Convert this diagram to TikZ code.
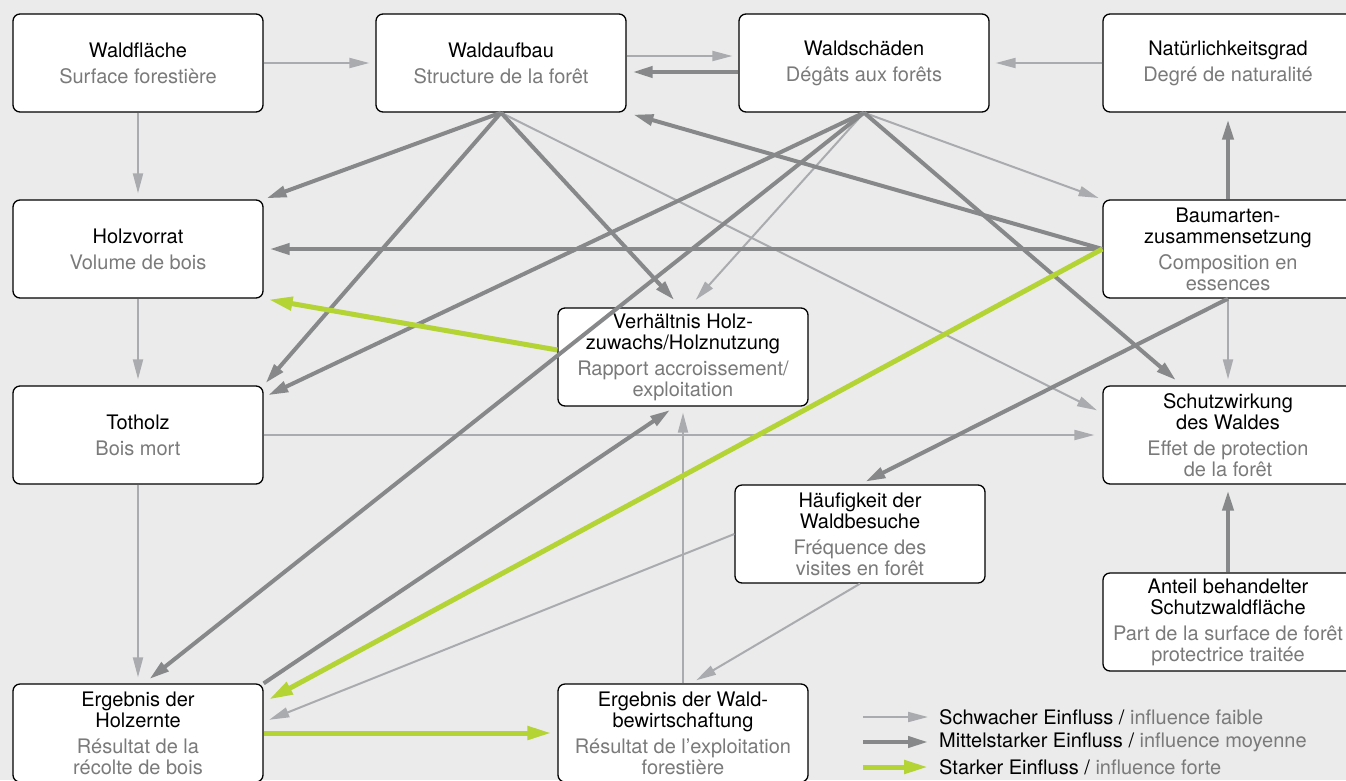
\documentclass[tikz,border=0pt]{standalone}
\usepackage{fontspec}
\setmainfont{TeX Gyre Heros}
\usepackage{tikz}
\usetikzlibrary{arrows.meta,calc}
\usepackage{xcolor}

\definecolor{bggray}{HTML}{EBEBEB}
\definecolor{weakgray}{HTML}{AAABAE}
\definecolor{midgray}{HTML}{87888A}
\definecolor{lime}{HTML}{B4D334}
\definecolor{frgray}{HTML}{7A7A7A}
\newcommand{\fr}[1]{\textcolor{frgray}{#1}}

\begin{document}
\begin{tikzpicture}[
    x=1pt, y=-1pt,
    box/.style={
        draw=black,
        line width=1.3pt,
        rounded corners=7pt,
        fill=white,
        minimum width=250pt,
        minimum height=98pt,
        inner sep=2pt,
        align=center,
        font=\fontsize{20}{21}\selectfont
    },
    legtxt/.style={inner sep=0pt, anchor=west, font=\fontsize{20}{21}\selectfont},
    weakarr/.style={draw=weakgray, line width=2pt,
        -{Triangle[length=20pt,width=10pt]}, shorten >=6pt},
    medarr/.style={draw=midgray, line width=4pt,
        -{Triangle[length=20pt,width=11pt]}, shorten >=6pt},
    strongarr/.style={draw=lime, line width=5pt,
        -{Triangle[length=24pt,width=13pt]}, shorten >=6pt}
]

\path[use as bounding box, fill=bggray] (0,0) rectangle (1346,780);

% Indikatoren
\node[box] (flaeche)  at (138,63)  {Waldfläche\\[5pt]\fr{Surface forestière}};
\node[box] (aufbau)   at (501,63)  {Waldaufbau\\[5pt]\fr{Structure de la forêt}};
\node[box] (schaeden) at (864,63)  {Waldschäden\\[5pt]\fr{Dégâts aux forêts}};
\node[box] (natur)    at (1228,63) {Natürlichkeitsgrad\\[5pt]\fr{Degré de naturalité}};
\node[box] (vorrat)   at (138,249) {Holzvorrat\\[5pt]\fr{Volume de bois}};
\node[box] (baumart)  at (1228,249) {Baumarten-\\zusammensetzung\\[5pt]\fr{Composition en}\\\fr{essences}};
\node[box] (verh)     at (683,357) {Verhältnis Holz-\\zuwachs/Holznutzung\\[5pt]\fr{Rapport accroissement/}\\\fr{exploitation}};
\node[box] (totholz)  at (138,435) {Totholz\\[5pt]\fr{Bois mort}};
\node[box] (schutz)   at (1228,435) {Schutzwirkung\\des Waldes\\[5pt]\fr{Effet de protection}\\\fr{de la forêt}};
\node[box] (besuch)   at (860,534) {Häufigkeit der\\Waldbesuche\\[5pt]\fr{Fréquence des}\\\fr{visites en forêt}};
\node[box] (anteil)   at (1228,622) {Anteil behandelter\\Schutzwaldfläche\\[5pt]\fr{Part de la surface de forêt}\\\fr{protectrice traitée}};
\node[box] (ernte)    at (138,733) {Ergebnis der\\Holzernte\\[5pt]\fr{Résultat de la}\\\fr{récolte de bois}};
\node[box] (bewirt)   at (683,733) {Ergebnis der Wald-\\bewirtschaftung\\[5pt]\fr{Résultat de l’exploitation}\\\fr{forestière}};

% schwacher Einfluss
\draw[weakarr] (flaeche.east) -- (aufbau.west);
\draw[weakarr] (flaeche.south) -- (vorrat.north);
\draw[weakarr] ($(aufbau.east)+(0,-7)$) -- ($(schaeden.west)+(0,-7)$);
\draw[weakarr] (natur.west) -- (schaeden.east);
\draw[weakarr] (aufbau.south) -- ($(schutz.west)+(0,-22)$);
\draw[weakarr, shorten >=4pt] (schaeden.south) -- (baumart.north west);
\draw[weakarr, shorten >=10pt] (schaeden.south) -- ($(verh.north)+(6,0)$);
\draw[weakarr] (baumart.south) -- (schutz.north);
\draw[weakarr] (vorrat.south) -- (totholz.north);
\draw[weakarr] (totholz.south) -- (ernte.north);
\draw[weakarr, shorten >=8pt] (totholz.east) -- (schutz.west);
\draw[weakarr] (bewirt.north) -- (verh.south);
\draw[weakarr] (besuch.west) -- ($(ernte.east)+(0,-11)$);
\draw[weakarr] (besuch.south) -- ($(bewirt.north)+(8,0)$);

% mittelstarker Einfluss
\draw[medarr] ($(schaeden.west)+(0,9)$) -- ($(aufbau.east)+(0,9)$);
\draw[medarr, shorten >=3pt] (aufbau.south) -- (vorrat.north east);
\draw[medarr, shorten >=3pt] (aufbau.south) -- (totholz.north east);
\draw[medarr, shorten >=10pt] (aufbau.south) -- ($(verh.north)+(-2,0)$);
\draw[medarr, shorten >=5pt] (schaeden.south) -- ($(totholz.north east)+(0,12)$);
\draw[medarr, shorten >=8pt] (schaeden.south) -- ($(schutz.north)+(-46,0)$);
\draw[medarr, shorten >=7pt] (schaeden.south) -- ($(ernte.north)+(6,0)$);
\draw[medarr, shorten >=7pt] (baumart.west) -- (aufbau.south east);
\draw[medarr] (baumart.west) -- (vorrat.east);
\draw[medarr, shorten >=7pt] (baumart.north) -- (natur.south);
\draw[medarr] (baumart.south) -- (besuch.north);
\draw[medarr] (ernte.north east) -- ($(verh.south)+(-8,0)$);
\draw[medarr] (anteil.north) -- (schutz.south);

% starker Einfluss
\draw[strongarr] (baumart.west) -- ($(ernte.north east)+(0,19)$);
\draw[strongarr, shorten >=5pt] ($(verh.west)+(0,-7)$) -- (vorrat.south east);
\draw[strongarr] (ernte.east) -- (bewirt.west);

% Legende
\coordinate (lg1) at (863,717);
\coordinate (lg2) at (863,742);
\coordinate (lg3) at (863,767);
\node[legtxt] (lgt1) at (939,717) {Schwacher Einfluss / \fr{influence faible}};
\node[legtxt] (lgt2) at (939,742) {Mittelstarker Einfluss / \fr{influence moyenne}};
\node[legtxt] (lgt3) at (939,767) {Starker Einfluss / \fr{influence forte}};
\draw[weakarr, shorten >=11pt] (lg1) -- (lgt1.west);
\draw[medarr, shorten >=11pt] (lg2) -- (lgt2.west);
\draw[strongarr, shorten >=11pt] (lg3) -- (lgt3.west);

\end{tikzpicture}
\end{document}
